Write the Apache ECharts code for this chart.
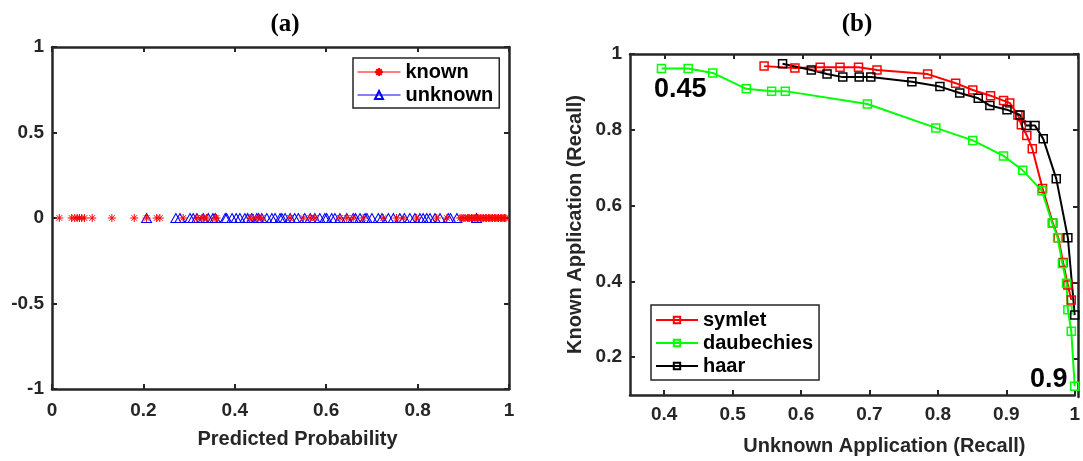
<!DOCTYPE html>
<html>
<head>
<meta charset="utf-8">
<script src="https://cdn.jsdelivr.net/npm/echarts@6/dist/echarts.min.js"></script>
<style>html,body{margin:0;padding:0;background:#fff}#c{width:1083px;height:461px}</style>
</head>
<body>
<div id="c"></div>
<script>
// ---------- Panel (a) data: predicted probabilities (all plotted at y = 0) ----------
const knownProb = [0.016,0.043,0.050,0.055,0.060,0.065,0.071,0.088,0.131,0.180,0.207,0.229,0.236,0.287,0.317,0.331,
  0.328,0.338,0.357,0.360,0.433,0.441,0.451,0.459,0.521,0.550,0.565,0.575,0.630,0.645,0.659,0.681,
  0.725,0.754,0.769,0.798,0.842,0.864,0.893,0.897,0.901,0.904,0.909,0.911,0.914,0.918,0.921,0.925,
  0.928,0.931,0.934,0.938,0.941,0.944,0.948,0.951,0.955,0.958,0.961,0.964,0.968,0.971,0.974,0.977,
  0.981,0.984,0.987,0.990,0.993];
const unknownProb = [0.207,0.271,0.280,0.302,0.309,0.317,0.342,0.357,0.379,0.382,0.411,0.422,0.437,0.448,
  0.459,0.470,0.488,0.499,0.510,0.521,0.539,0.565,0.575,0.586,0.601,0.619,0.630,0.645,0.659,0.674,
  0.685,0.689,0.700,0.714,0.736,0.747,0.761,0.783,0.794,0.805,0.820,0.827,0.849,0.867,0.886,0.929,
  0.331,0.352,0.394,0.403,0.428,0.452,0.481,0.503,0.531,0.553,0.597,0.612,0.664,0.722,0.771,0.812,0.838,0.872];

// ---------- Panel (b) data: recall curves ----------
const symletX = [0.546,0.591,0.628,0.657,0.684,0.711,0.785,0.826,0.851,0.877,0.896,0.905,0.917,0.922,0.930,0.938,0.953,0.968,0.976,0.983,0.990,0.995];
const symletY = [0.968,0.963,0.965,0.965,0.965,0.958,0.947,0.923,0.905,0.890,0.877,0.871,0.839,0.813,0.785,0.750,0.645,0.554,0.515,0.450,0.390,0.351];
const daubX = [0.396,0.435,0.471,0.520,0.557,0.577,0.697,0.797,0.851,0.896,0.924,0.952,0.967,0.975,0.982,0.988,0.990,0.995,1.000];
const daubY = [0.962,0.962,0.950,0.908,0.902,0.902,0.868,0.805,0.772,0.731,0.693,0.639,0.554,0.515,0.447,0.395,0.325,0.268,0.123];
const haarX = [0.573,0.615,0.638,0.661,0.685,0.702,0.762,0.803,0.832,0.859,0.876,0.901,0.920,0.929,0.942,0.954,0.973,0.990,1.000];
const haarY = [0.974,0.958,0.947,0.939,0.939,0.939,0.927,0.914,0.897,0.883,0.864,0.853,0.839,0.811,0.811,0.776,0.671,0.515,0.311];

const aXTicks = [0,0.2,0.4,0.6,0.8,1];
const aYTicks = [-1,-0.5,0,0.5,1];
const bXTicks = [0.4,0.5,0.6,0.7,0.8,0.9,1];
const bYTicks = [0.2,0.4,0.6,0.8,1];

const zip = (xs, ys) => xs.map((x, i) => [x, ys[i]]);
const atZero = xs => xs.map(x => [x, 0]);

const AX = '#262626';
const labelFont = {fontFamily: 'Liberation Sans', fontWeight: 'bold', fontSize: 19, color: AX};
const nameFont = {fontFamily: 'Liberation Sans', fontWeight: 'bold', fontSize: 20, color: AX};

function xAx(grid, min, max, ticks, name, main, opt) {
  return {
    type: 'value', gridIndex: grid, min, max, position: main ? 'bottom' : 'top',
    name: main ? name : '', nameLocation: 'middle', nameGap: opt.gap,
    nameTextStyle: {...nameFont, padding: [0, 0, 0, opt.shift]},
    axisLine: {show: true, onZero: false, lineStyle: {color: AX, width: 2.5}},
    axisTick: {show: true, inside: true, length: 5, customValues: ticks, lineStyle: {color: AX, width: 2}},
    axisLabel: {show: main, margin: opt.margin, customValues: ticks, ...labelFont},
    splitLine: {show: false}
  };
}
function yAx(grid, min, max, ticks, name, main) {
  return {
    type: 'value', gridIndex: grid, min, max, position: main ? 'left' : 'right',
    name: main ? name : '', nameLocation: 'middle', nameGap: 45, nameTextStyle: nameFont,
    axisLine: {show: true, onZero: false, lineStyle: {color: AX, width: 2.5}},
    axisTick: {show: true, inside: true, length: 5, customValues: ticks, lineStyle: {color: AX, width: 2}},
    axisLabel: {show: main, margin: 8, customValues: ticks, ...labelFont},
    splitLine: {show: false}
  };
}

const SQ = 'path://M-1,-1L1,-1L1,1L-1,1Z';
const STAR = 'path://M0,-1L0,1M-1,0L1,0M-0.7,-0.7L0.7,0.7M-0.7,0.7L0.7,-0.7';
const TRI = 'path://M0,-1L0.95,0.7L-0.95,0.7Z';

function curve(name, xs, ys, color) {
  return {
    name, type: 'line', xAxisIndex: 2, yAxisIndex: 2, data: zip(xs, ys),
    symbol: SQ, symbolSize: 8, showAllSymbol: true,
    lineStyle: {color, width: 2},
    itemStyle: {color: 'rgba(0,0,0,0)', borderColor: color, borderWidth: 1.5},
    emphasis: {disabled: true}, animation: false
  };
}

const legendText = {fontFamily: 'Liberation Sans', fontWeight: 'bold', fontSize: 20, color: '#000'};

const option = {
  animation: false,
  backgroundColor: '#fff',
  title: [
    {text: '(a)', left: 280, top: 7, textAlign: 'center', textStyle: {fontFamily: 'Liberation Serif', fontWeight: 'bold', fontSize: 25, color: '#000'}},
    {text: '(b)', left: 852, top: 7, textAlign: 'center', textStyle: {fontFamily: 'Liberation Serif', fontWeight: 'bold', fontSize: 25, color: '#000'}}
  ],
  grid: [
    {left: 52, top: 47, width: 457, height: 342},
    {left: 52, top: 47, width: 457, height: 342},
    {left: 630, top: 54, width: 448, height: 343},
    {left: 630, top: 54, width: 448, height: 343}
  ],
  xAxis: [
    xAx(0, 0, 1, aXTicks, 'Predicted Probability', true, {gap: 40, margin: 12, shift: 34}),
    xAx(1, 0, 1, aXTicks, '', false, {gap: 40, margin: 12, shift: 0}),
    xAx(2, 0.35, 1, bXTicks, 'Unknown Application (Recall)', true, {gap: 41, margin: 10, shift: 64}),
    xAx(3, 0.35, 1, bXTicks, '', false, {gap: 40, margin: 10, shift: 0})
  ],
  yAxis: [
    yAx(0, -1, 1, aYTicks, '', true),
    yAx(1, -1, 1, aYTicks, '', false),
    yAx(2, 0.1, 1, bYTicks, 'Known Application (Recall)', true),
    yAx(3, 0.1, 1, bYTicks, '', false)
  ],
  legend: [
    {
      data: [
        {name: 'known', lineStyle: {color: '#ff0000', opacity: 1, width: 1}},
        {name: 'unknown', lineStyle: {color: '#0000ff', opacity: 1, width: 1}}
      ],
      orient: 'vertical', left: 353, top: 58,
      padding: [4, 6, 3, 4], itemGap: 3, itemWidth: 43, itemHeight: 10,
      backgroundColor: '#fff', borderColor: AX, borderWidth: 1.5,
      textStyle: legendText
    },
    {
      data: ['symlet', 'daubechies', 'haar'], orient: 'vertical', left: 651, top: 305,
      padding: [5, 6, 4, 4], itemGap: 3, itemWidth: 42, itemHeight: 8,
      backgroundColor: '#fff', borderColor: AX, borderWidth: 1.5,
      textStyle: legendText
    }
  ],
  graphic: [
    {type: 'text', left: 654, top: 76, style: {text: '0.45', font: 'bold 27px "Liberation Sans"', fill: '#000'}},
    {type: 'text', left: 1030, top: 366, style: {text: '0.9', font: 'bold 27px "Liberation Sans"', fill: '#000'}}
  ],
  series: [
    {
      name: 'unknown', type: 'line', xAxisIndex: 0, yAxisIndex: 0, data: atZero(unknownProb),
      symbol: TRI, symbolSize: [10, 9], showAllSymbol: true,
      lineStyle: {color: '#0000ff', width: 1, opacity: 0},
      itemStyle: {color: 'rgba(0,0,0,0)', borderColor: '#0000ff', borderWidth: 1},
      emphasis: {disabled: true}, z: 2
    },
    {
      name: 'known', type: 'line', xAxisIndex: 0, yAxisIndex: 0, data: atZero(knownProb),
      symbol: STAR, symbolSize: 8, showAllSymbol: true,
      lineStyle: {color: '#ff0000', width: 1, opacity: 0},
      itemStyle: {color: 'rgba(0,0,0,0)', borderColor: '#ff0000', borderWidth: 1},
      emphasis: {disabled: true}, z: 3
    },
    curve('symlet', symletX, symletY, '#ff0000'),
    curve('daubechies', daubX, daubY, '#00ff00'),
    curve('haar', haarX, haarY, '#000000')
  ]
};

const chart = echarts.init(document.getElementById('c'), null, {renderer: 'canvas'});
chart.setOption(option);
</script>
</body>
</html>
